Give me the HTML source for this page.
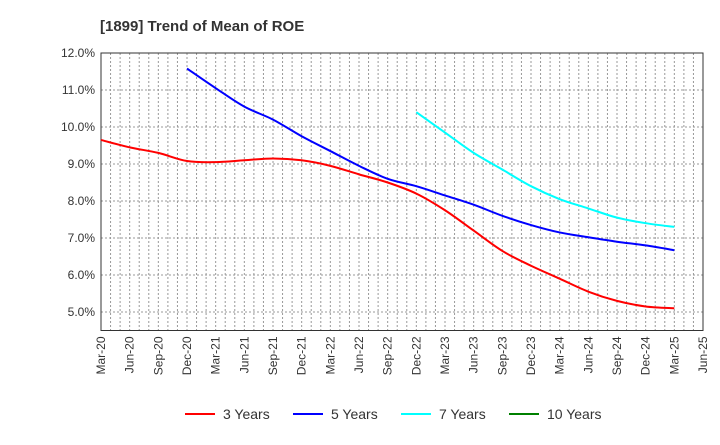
<!DOCTYPE html>
<html><head><meta charset="utf-8"><style>
body{margin:0;background:#fff;font-family:"Liberation Sans",sans-serif;}
svg text{font-family:"Liberation Sans",sans-serif;}
</style></head><body>
<svg id="c" width="720" height="440">
<text x="100" y="31" font-size="15" font-weight="bold" fill="#333">[1899]  Trend of Mean of ROE</text>
<g id="grid"></g><g id="axes"></g><g id="series"></g><g id="legend"></g>
</svg>
<script>
const xLabels=["Mar-20","Jun-20","Sep-20","Dec-20","Mar-21","Jun-21","Sep-21","Dec-21","Mar-22","Jun-22","Sep-22","Dec-22","Mar-23","Jun-23","Sep-23","Dec-23","Mar-24","Jun-24","Sep-24","Dec-24","Mar-25","Jun-25"];
const yTicks=[5,6,7,8,9,10,11,12];
const s3=[9.65,9.45,9.3,9.08,9.05,9.1,9.15,9.1,8.95,8.72,8.5,8.2,7.75,7.2,6.65,6.25,5.9,5.55,5.3,5.15,5.1];
const s3Start=0;
const s5=[11.58,11.05,10.55,10.2,9.75,9.35,8.95,8.6,8.4,8.15,7.9,7.6,7.35,7.15,7.02,6.9,6.8,6.67];
const s5Start=3;
const s7=[10.4,9.85,9.3,8.85,8.4,8.05,7.8,7.55,7.4,7.3];
const s7Start=11;
const s10=[];
const s10Start=0;
const L=101,R=703,T=53,B=330.5,yMin=4.5,yMax=12;
const xq=i=>L+i*(R-L)/21;
const y=v=>B-(v-yMin)/(yMax-yMin)*(B-T);
const NS="http://www.w3.org/2000/svg";
function mk(p,tag,at){const e=document.createElementNS(NS,tag);for(const k in at)e.setAttribute(k,at[k]);p.appendChild(e);return e;}
const g=document.getElementById('grid'),ax=document.getElementById('axes'),sg=document.getElementById('series'),lg=document.getElementById('legend');
for(let m=1;m<63;m++){const x=L+m*(R-L)/63;const l=mk(g,'line',{x1:x,x2:x,y1:T,y2:B,stroke:'#999','stroke-dasharray':'2,2','stroke-width':1});

}
yTicks.forEach(v=>{const l=mk(g,'line',{x1:L,x2:R,y1:y(v),y2:y(v),stroke:'#999','stroke-dasharray':'2,2','stroke-width':1});


const t=mk(ax,'text',{x:L-6,y:y(v)+4,'text-anchor':'end','font-size':12,fill:'#333'});t.textContent=v.toFixed(1)+'%';

});
const fr=mk(ax,'rect',{x:L,y:T,width:R-L,height:B-T,fill:'none',stroke:'#333','stroke-width':1});


xLabels.forEach((s,i)=>{const x=xq(i);const t=mk(ax,'text',{x:0,y:0,'text-anchor':'end','font-size':12,fill:'#333',transform:`translate(${x+4},${B+6}) rotate(-90)`});t.textContent=s;

});
function path(vals,start){if(vals.length<2)return '';const p=vals.map((v,i)=>[xq(start+i),y(v)]);let d=`M${p[0][0]},${p[0][1]}`;
for(let i=0;i<p.length-1;i++){const p0=p[i-1]||p[i],p1=p[i],p2=p[i+1],p3=p[i+2]||p2;
d+=` C${p1[0]+(p2[0]-p0[0])/6},${p1[1]+(p2[1]-p0[1])/6} ${p2[0]-(p3[0]-p1[0])/6},${p2[1]-(p3[1]-p1[1])/6} ${p2[0]},${p2[1]}`;}return d;}
const series=[["3 Years",s3,s3Start,"#ff0000"],["5 Years",s5,s5Start,"#0000ff"],["7 Years",s7,s7Start,"#00ffff"],["10 Years",s10,s10Start,"#008000"]];
const lx=[185,293,401,509];
series.forEach((s,k)=>{const p=mk(sg,'path',{d:path(s[1],s[2]),fill:'none',stroke:s[3],'stroke-width':2});


const l=mk(lg,'line',{x1:lx[k],x2:lx[k]+30,y1:414,y2:414,stroke:s[3],'stroke-width':2});


const t=mk(lg,'text',{x:lx[k]+38,y:419,'font-size':14,fill:'#333'});t.textContent=s[0];

});
</script>
</body></html>
